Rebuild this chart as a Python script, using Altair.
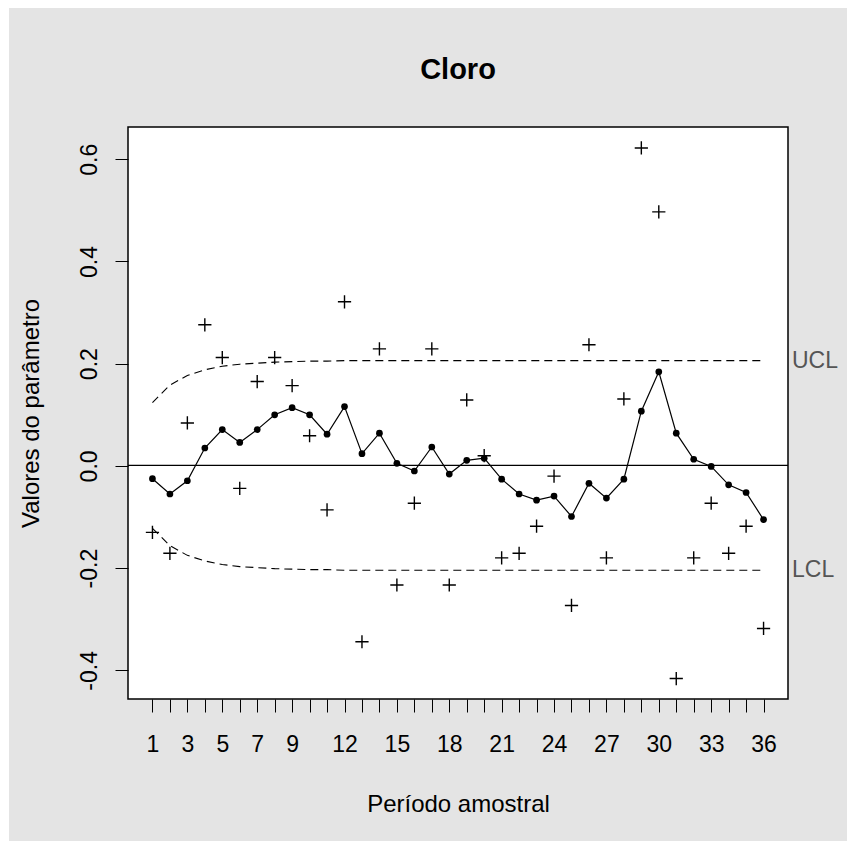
import altair as alt
import pandas as pd

# EWMA control chart for chlorine ("Cloro") over 36 sampling periods
periods = list(range(1, 37))

# individual observations (drawn as "+")
observed = [-0.130, -0.171, 0.084, 0.276, 0.212, -0.044, 0.165, 0.212, 0.157, 0.059,
            -0.086, 0.321, -0.344, 0.229, -0.233, -0.073, 0.229, -0.233, 0.129, 0.020,
            -0.180, -0.171, -0.118, -0.020, -0.273, 0.237, -0.180, 0.131, 0.622, 0.497,
            -0.416, -0.180, -0.073, -0.171, -0.118, -0.318]

# EWMA statistic (joined points)
ewma = [-0.025, -0.055, -0.029, 0.035, 0.071, 0.046, 0.071, 0.100, 0.114, 0.100,
        0.062, 0.116, 0.024, 0.064, 0.005, -0.010, 0.037, -0.016, 0.011, 0.015,
        -0.026, -0.055, -0.067, -0.059, -0.099, -0.034, -0.063, -0.026, 0.107, 0.184,
        0.064, 0.013, -0.001, -0.037, -0.052, -0.105]

# control limits (dashed)
ucl = [0.124, 0.158, 0.177, 0.188, 0.195, 0.199, 0.201, 0.203, 0.204, 0.205,
       0.205, 0.206, 0.206, 0.206, 0.206, 0.206, 0.206, 0.206, 0.206, 0.206,
       0.206, 0.206, 0.206, 0.206, 0.206, 0.206, 0.206, 0.206, 0.206, 0.206,
       0.206, 0.206, 0.206, 0.206, 0.206, 0.206]
lcl = [-0.122, -0.156, -0.175, -0.186, -0.193, -0.197, -0.199, -0.201, -0.202, -0.203,
       -0.203, -0.204, -0.204, -0.204, -0.204, -0.204, -0.204, -0.204, -0.204, -0.204,
       -0.204, -0.204, -0.204, -0.204, -0.204, -0.204, -0.204, -0.204, -0.204, -0.204,
       -0.204, -0.204, -0.204, -0.204, -0.204, -0.204]
center = 0.001

x_labelled = [1, 3, 5, 7, 9, 12, 15, 18, 21, 24, 27, 30, 33, 36]
y_ticks = [-0.4, -0.2, 0.0, 0.2, 0.4, 0.6]
limit_labels = ["UCL", "LCL"]

W, H = 660, 572
FONT = "Liberation Sans"
TITLE = "Cloro"
X_TITLE = "Período amostral"
Y_TITLE = "Valores do parâmetro"

df = pd.DataFrame({"period": periods, "observed": observed, "ewma": ewma,
                   "ucl": ucl, "lcl": lcl})
one = pd.DataFrame({"k": [0]})
lab_df = pd.DataFrame({"label": limit_labels, "value": [ucl[-1], lcl[-1]]})
title_df = pd.DataFrame({"t": [TITLE]})

xscale = alt.Scale(domain=[-0.4, 37.4], nice=False, zero=False)
yscale = alt.Scale(domain=[-0.456, 0.663], nice=False, zero=False)

label_list = ",".join(str(v) for v in x_labelled)
x_axis = alt.Axis(
    values=periods, grid=False, domain=False, zindex=1,
    tickSize=13, tickColor="black", tickWidth=1,
    labelExpr=f"indexof([{label_list}], datum.value) >= 0 ? datum.label : ''",
    labelFont=FONT, labelFontSize=23, labelColor="black",
    labelBaseline="alphabetic", labelPadding=39, labelOverlap=False, labelFlush=False,
    titleFont=FONT, titleFontSize=24, titleFontWeight="normal", titleColor="black",
    titleBaseline="alphabetic", titleY=112,
)
y_axis = alt.Axis(
    values=y_ticks, format=".1f", grid=False, domain=False, zindex=1,
    tickSize=13, tickColor="black", tickWidth=1,
    labelExpr="replace(datum.label, '\u2212', '-')",
    labelFont=FONT, labelFontSize=23, labelColor="black", labelOverlap=False,
    labelAngle=270, labelAlign="center", labelBaseline="alphabetic", labelPadding=19,
    titleFont=FONT, titleFontSize=24, titleFontWeight="normal", titleColor="black",
    titleAngle=270, titleAlign="center", titleBaseline="alphabetic",
    titleX=-90, titleY=H / 2,
)


def X(field="period"):
    return alt.X(f"{field}:Q", scale=xscale, axis=x_axis, title=X_TITLE)


def Y(field):
    return alt.Y(f"{field}:Q", scale=yscale, axis=y_axis, title=Y_TITLE)


# grey figure margin and white plotting region
margin = alt.Chart(one).mark_rect(color="#E4E4E4").encode(
    x=alt.value(-119), x2=alt.value(719), y=alt.value(-119), y2=alt.value(714))
panel = alt.Chart(one).mark_rect(color="white").encode(
    x=alt.value(0), x2=alt.value(W), y=alt.value(0), y2=alt.value(H))

# main title, centred over the plotting region
title_mark = alt.Chart(title_df).mark_text(
    font=FONT, fontSize=29, fontWeight="bold", color="black",
    align="center", baseline="alphabetic"
).encode(x=alt.value(W / 2), y=alt.value(-48), text="t:N")

base = alt.Chart(df)

center_line = alt.Chart(one).mark_rule(color="black", strokeWidth=1.2).encode(
    y=alt.YDatum(center, scale=yscale, axis=y_axis, title=Y_TITLE))

ucl_line = base.mark_line(color="black", strokeWidth=1.1, strokeDash=[8, 5]).encode(
    x=X(), y=Y("ucl"))
lcl_line = base.mark_line(color="black", strokeWidth=1.1, strokeDash=[8, 5]).encode(
    x=X(), y=Y("lcl"))

ewma_line = base.mark_line(color="black", strokeWidth=1.2).encode(x=X(), y=Y("ewma"))
ewma_pts = base.mark_circle(color="black", size=45, opacity=1).encode(x=X(), y=Y("ewma"))

plus = base.mark_point(shape="M-1,0L1,0M0,-1L0,1", size=175, filled=False,
                       stroke="black", strokeWidth=1.4, opacity=1).encode(
    x=X(), y=Y("observed"))

limit_text = alt.Chart(lab_df).mark_text(
    align="left", baseline="middle", dx=4, font=FONT, fontSize=23, color="#555555"
).encode(x=alt.XDatum(37.4, scale=xscale, axis=x_axis, title=X_TITLE),
         y=Y("value"), text="label:N")

frame = alt.Chart(one).mark_rect(fillOpacity=0, stroke="black", strokeWidth=1.5).encode(
    x=alt.value(0), x2=alt.value(W), y=alt.value(0), y2=alt.value(H))

chart = alt.layer(
    margin, panel, title_mark, center_line, ucl_line, lcl_line, ewma_line, ewma_pts,
    plus, limit_text, frame
).properties(
    width=W, height=H,
    padding={"left": 128, "top": 127, "right": 59, "bottom": 142},
    autosize=alt.AutoSizeParams(type="none"),
    background="white",
).configure_view(strokeOpacity=0).configure_axis(labelOverlap=False)

chart.save("out.html", embed_options={"renderer": "svg", "actions": False})
